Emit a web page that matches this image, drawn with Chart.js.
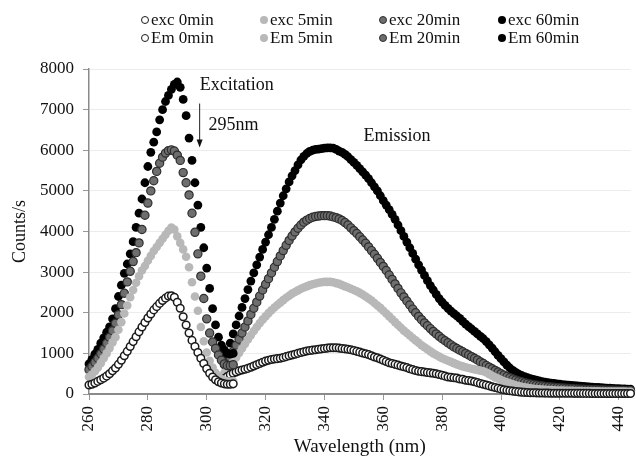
<!DOCTYPE html>
<html>
<head>
<meta charset="utf-8">
<script src="https://cdn.jsdelivr.net/npm/chart.js@4/dist/chart.umd.min.js"></script>
<style>
  body { margin: 0; background: #fff; }
  #wrap { position: relative; width: 636px; height: 464px; }
  #leyenda { position: absolute; left: 0; top: 0; width: 636px; height: 60px;
             font-family: "Liberation Serif", "Times New Roman", serif; font-size: 17px; color: #111; }
  .item { position: absolute; white-space: nowrap; line-height: 18px; }
  .marca { position: absolute; left: -4px; top: 5px; width: 8px; height: 8px; border-radius: 50%; box-sizing: border-box; }
  .item span.txt { position: absolute; left: 6px; top: 0; }
</style>
</head>
<body>
<div id="wrap">
  <canvas id="chart" width="636" height="464"></canvas>
  <div id="leyenda"></div>
</div>
<script>
// barrido de excitación 260-309 nm y de emisión 306-446 nm, paso de 1 nm
const excInicio = 260, excFin = 309;
const emInicio = 306, emFin = 446;

const exc0 = [
  220, 240, 270, 310, 350, 390, 440, 500, 570, 640,
  730, 830, 940, 1050, 1170, 1290, 1410, 1530, 1650, 1760,
  1870, 1970, 2070, 2150, 2230, 2300, 2360, 2410, 2420, 2380,
  2260, 2110, 1900, 1700, 1500, 1320, 1170, 1020, 880, 750,
  620, 510, 420, 350, 300, 270, 250, 240, 240, 250
];
const exc5 = [
  420, 480, 560, 650, 760, 880, 1000, 1130, 1270, 1400,
  1580, 1770, 1980, 2180, 2380, 2560, 2740, 2900, 3040, 3150,
  3280, 3400, 3520, 3620, 3720, 3820, 3920, 4020, 4100, 4050,
  3880, 3720, 3560, 3380, 3120, 2750, 2400, 2050, 1650, 1300,
  1020, 820, 650, 520, 430, 370, 330, 310, 300, 310
];
const exc20 = [
  600, 680, 780, 880, 990, 1110, 1250, 1400, 1560, 1740,
  1950, 2200, 2480, 2760, 3020, 3260, 3480, 3720, 4050, 4400,
  4700, 5000, 5250, 5480, 5680, 5830, 5930, 5990, 6010, 5980,
  5880, 5750, 5450, 5200, 4900, 4450, 3980, 3450, 2900, 2350,
  1850, 1500, 1280, 1120, 960, 830, 740, 700, 700, 720
];
const exc60 = [
  740, 850, 980, 1100, 1250, 1380, 1520, 1650, 1850, 2100,
  2400, 2680, 2970, 3200, 3450, 3750, 4100, 4450, 4800, 5200,
  5600, 5950, 6200, 6450, 6750, 7000, 7200, 7350, 7500, 7620,
  7680, 7550, 7250, 6850, 6300, 5750, 5200, 4650, 4100, 3600,
  3100, 2600, 2100, 1700, 1400, 1200, 1080, 1000, 980, 1000
];

const em0 = [
  380, 430, 480, 510, 540, 570, 590, 610, 630, 660,
  690, 720, 750, 780, 810, 830, 850, 860, 870, 880,
  900, 920, 940, 960, 980, 1000, 1020, 1040, 1060, 1070,
  1080, 1090, 1100, 1110, 1120, 1130, 1140, 1140, 1140, 1130,
  1120, 1110, 1100, 1090, 1070, 1050, 1030, 1010, 990, 970,
  940, 910, 890, 860, 830, 800, 770, 750, 730, 710,
  690, 670, 650, 620, 600, 580, 560, 550, 540, 530,
  520, 510, 500, 480, 460, 440, 420, 410, 400, 390,
  370, 360, 340, 330, 320, 300, 280, 260, 240, 220,
  200, 180, 160, 140, 120, 105, 90, 80, 70, 60,
  52, 45, 40, 36, 32, 30, 28, 26, 24, 22,
  21, 20, 20, 19, 19, 18, 18, 17, 17, 16,
  16, 16, 15, 15, 15, 14, 14, 14, 13, 13,
  13, 13, 12, 12, 12, 12, 11, 11, 11, 11, 10
];
const em5 = [
  520, 600, 700, 800, 900, 1010, 1120, 1230, 1340, 1450,
  1550, 1650, 1740, 1830, 1910, 1990, 2060, 2130, 2190, 2250,
  2310, 2370, 2420, 2470, 2510, 2550, 2590, 2620, 2650, 2680,
  2700, 2720, 2740, 2750, 2760, 2760, 2760, 2750, 2730, 2710,
  2680, 2650, 2620, 2590, 2560, 2530, 2490, 2450, 2400, 2350,
  2300, 2240, 2180, 2120, 2050, 1980, 1910, 1840, 1770, 1700,
  1630, 1560, 1500, 1440, 1380, 1320, 1260, 1200, 1150, 1100,
  1050, 1000, 960, 920, 880, 850, 820, 790, 760, 730,
  700, 680, 660, 640, 620, 605, 590, 575, 560, 530,
  490, 450, 410, 380, 345, 315, 290, 265, 240, 215,
  195, 178, 163, 150, 140, 130, 122, 115, 109, 104,
  99, 95, 91, 88, 85, 82, 80, 78, 76, 74,
  72, 70, 69, 68, 67, 66, 65, 64, 63, 62,
  61, 60, 60, 59, 59, 58, 58, 57, 57, 56, 56
];
const em20 = [
  720, 780, 900, 1050, 1200, 1350, 1500, 1650, 1800, 1960,
  2110, 2260, 2410, 2560, 2700, 2840, 2980, 3120, 3260, 3400,
  3530, 3660, 3780, 3890, 3990, 4080, 4160, 4230, 4280, 4320,
  4350, 4370, 4380, 4390, 4390, 4390, 4380, 4360, 4340, 4310,
  4270, 4220, 4160, 4090, 4020, 3950, 3870, 3790, 3710, 3620,
  3530, 3440, 3340, 3240, 3140, 3040, 2930, 2820, 2710, 2600,
  2490, 2390, 2290, 2190, 2090, 2000, 1910, 1830, 1750, 1680,
  1610, 1540, 1480, 1420, 1360, 1310, 1260, 1210, 1160, 1120,
  1080, 1040, 1000, 960, 920, 880, 840, 790, 750, 700,
  660, 620, 580, 540, 500, 465, 430, 400, 370, 345,
  320, 300, 280, 262, 246, 232, 220, 208, 198, 188,
  180, 172, 165, 158, 152, 146, 141, 136, 131, 127,
  123, 119, 116, 113, 110, 107, 104, 101, 99, 97,
  95, 93, 91, 89, 87, 85, 84, 82, 81, 80, 79
];
const em60 = [
  900, 1000, 1250, 1480, 1700, 1920, 2130, 2350, 2570, 2780,
  2980, 3180, 3370, 3560, 3740, 3920, 4100, 4300, 4500, 4700,
  4880, 5050, 5220, 5370, 5500, 5640, 5760, 5850, 5920, 5970,
  6000, 6020, 6030, 6040, 6050, 6060, 6060, 6050, 6020, 5980,
  5950, 5900, 5840, 5770, 5700, 5630, 5550, 5470, 5390, 5300,
  5200, 5100, 5000, 4880, 4760, 4650, 4540, 4420, 4300, 4160,
  4020, 3880, 3740, 3600, 3460, 3320, 3180, 3050, 2920, 2790,
  2670, 2560, 2450, 2350, 2260, 2180, 2110, 2040, 1980, 1920,
  1860, 1790, 1720, 1660, 1600, 1540, 1480, 1420, 1360, 1290,
  1210, 1130, 1040, 950, 870, 790, 710, 640, 580, 530,
  490, 455, 425, 400, 380, 360, 340, 320, 305, 290,
  280, 270, 260, 250, 240, 232, 224, 217, 210, 204,
  198, 192, 186, 180, 175, 170, 165, 160, 155, 150,
  146, 142, 138, 134, 130, 127, 124, 121, 118, 115, 112
];

const ejeX = { min: 260, max: 444, paso: 20 };
const ejeY = { min: 0, max: 8000, paso: 1000 };

const fuente = '"Liberation Serif", "Times New Roman", serif';

function longitudes(inicio, fin) {
  const wl = [];
  for (let w = inicio; w <= fin; w++) wl.push(w);
  return wl;
}
const excWl = longitudes(excInicio, excFin);
const emWl = longitudes(emInicio, emFin);

function puntos(wl, valores) {
  return valores.map((v, i) => ({ x: wl[i], y: v }));
}

// estilos de marcador por tiempo de exposición
const estilos = {
  '0min':  { fondo: '#ffffff', borde: '#1a1a1a', ancho: 1.5, radio: 3.8 },
  '5min':  { fondo: '#b8b8b8', borde: '#b8b8b8', ancho: 0,   radio: 4.3 },
  '20min': { fondo: '#6e6e6e', borde: '#2e2e2e', ancho: 1.2, radio: 4.1 },
  '60min': { fondo: '#000000', borde: '#000000', ancho: 0,   radio: 4.4 }
};

const series = [
  { label: 'exc 0min',  t: '0min',  data: puntos(excWl, exc0) },
  { label: 'exc 5min',  t: '5min',  data: puntos(excWl, exc5) },
  { label: 'exc 20min', t: '20min', data: puntos(excWl, exc20) },
  { label: 'exc 60min', t: '60min', data: puntos(excWl, exc60) },
  { label: 'Em 0min',   t: '0min',  data: puntos(emWl, em0) },
  { label: 'Em 5min',   t: '5min',  data: puntos(emWl, em5) },
  { label: 'Em 20min',  t: '20min', data: puntos(emWl, em20) },
  { label: 'Em 60min',  t: '60min', data: puntos(emWl, em60) }
];

const datasets = series.map(s => {
  const e = estilos[s.t];
  return {
    label: s.label,
    data: s.data,
    showLine: false,
    pointRadius: e.radio,
    pointBackgroundColor: e.fondo,
    pointBorderColor: e.borde,
    pointBorderWidth: e.ancho,
    clip: false
  };
});

// textos y flecha dentro del gráfico
const notas = {
  id: 'notas',
  afterDatasetsDraw(chart) {
    const { ctx, scales: { x, y } } = chart;
    ctx.save();
    ctx.fillStyle = '#111';
    ctx.textBaseline = 'middle';
    ctx.textAlign = 'left';
    ctx.font = '18px ' + fuente;
    ctx.fillText('Excitation', x.getPixelForValue(297.6), y.getPixelForValue(7600));
    ctx.fillText('295nm', x.getPixelForValue(300.6), y.getPixelForValue(6620));
    ctx.fillText('Emission', x.getPixelForValue(353.3), y.getPixelForValue(6350));

    const fx = x.getPixelForValue(297.6);
    const y1 = y.getPixelForValue(7150);
    const y2 = y.getPixelForValue(6070);
    ctx.strokeStyle = '#222';
    ctx.lineWidth = 1;
    ctx.beginPath();
    ctx.moveTo(fx, y1);
    ctx.lineTo(fx, y2 - 6);
    ctx.stroke();
    ctx.beginPath();
    ctx.moveTo(fx - 3, y2 - 8);
    ctx.lineTo(fx + 3, y2 - 8);
    ctx.lineTo(fx, y2);
    ctx.closePath();
    ctx.fill();
    ctx.restore();
  }
};

const ctx = document.getElementById('chart').getContext('2d');
const myChart = new Chart(ctx, {
  type: 'scatter',
  data: { datasets: datasets },
  options: {
    responsive: false,
    animation: false,
    layout: { padding: { top: 69, right: 0, bottom: 0, left: 0 } },
    plugins: { legend: { display: false }, tooltip: { enabled: false } },
    scales: {
      x: {
        type: 'linear',
        min: ejeX.min,
        max: ejeX.max,
        afterFit: scale => {
          scale.height = 70;
          scale.paddingLeft = 0;
          scale.paddingRight = 0;
        },
        border: { color: '#8a8a8a', width: 2 },
        grid: { drawOnChartArea: false, tickLength: 6, tickColor: '#999' },
        ticks: {
          stepSize: ejeX.paso,
          includeBounds: false,
          minRotation: 90,
          maxRotation: 90,
          padding: 6,
          color: '#111',
          font: { family: fuente, size: 17 }
        },
        title: {
          display: true,
          text: 'Wavelength (nm)',
          color: '#111',
          font: { family: fuente, size: 19 },
          padding: { top: 0, bottom: 6 }
        }
      },
      y: {
        min: ejeY.min,
        max: ejeY.max,
        afterFit: scale => { scale.width = 89; },
        border: { color: '#8a8a8a', width: 1.5 },
        grid: { color: '#ececec', tickLength: 6, tickColor: '#999' },
        ticks: {
          stepSize: ejeY.paso,
          padding: 9,
          color: '#111',
          font: { family: fuente, size: 17 },
          callback: v => String(v)
        },
        title: {
          display: true,
          text: 'Counts/s',
          color: '#111',
          font: { family: fuente, size: 18 },
          padding: { top: 9, bottom: 0 }
        }
      }
    }
  },
  plugins: [notas]
});

// leyenda en dos filas de cuatro columnas
const columnas = [145, 264, 383, 502];
const filas = [20, 38];
const leyenda = document.getElementById('leyenda');
series.forEach((s, i) => {
  const e = estilos[s.t];
  const item = document.createElement('div');
  item.className = 'item';
  item.style.left = columnas[i % 4] + 'px';
  item.style.top = (filas[Math.floor(i / 4)] - 9) + 'px';
  item.innerHTML = `<span class="marca" style="background:${e.fondo};border:${e.ancho ? 1.5 : 0}px solid ${e.borde}"></span><span class="txt">${s.label}</span>`;
  leyenda.appendChild(item);
});
</script>
</body>
</html>
